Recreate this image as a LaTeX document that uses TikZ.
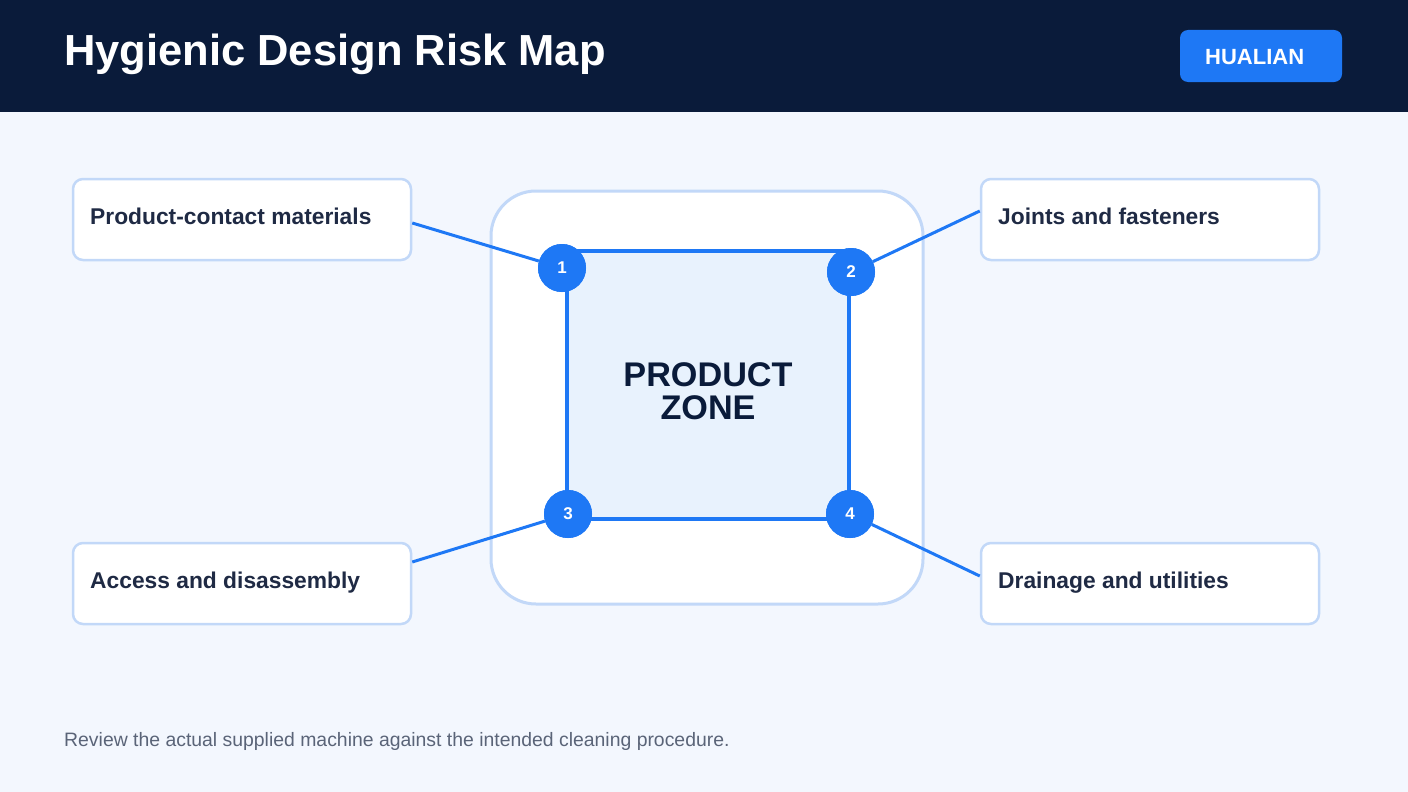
\documentclass[tikz,border=0pt]{standalone}
\usepackage{fontspec}
\setmainfont{Liberation Sans}
\usetikzlibrary{calc}
\definecolor{navy}{HTML}{0A1B3A}
\definecolor{pagebg}{HTML}{F3F7FE}
\definecolor{accent}{HTML}{1E78F5}
\definecolor{softline}{HTML}{C2D8F8}
\definecolor{zonefill}{HTML}{E8F2FD}
\definecolor{labeltext}{HTML}{1F2A44}
\definecolor{foottext}{HTML}{5A6478}
\tikzset{
  labelbox/.style={draw=softline, line width=2.5pt, fill=white, rounded corners=10pt,
    minimum width=338pt, minimum height=81pt, inner sep=0pt},
  labeltxt/.style={anchor=base west, text=labeltext, font=\fontsize{22.8}{26}\selectfont\bfseries, inner sep=0pt},
  numdot/.style={circle, fill=accent, minimum size=48pt, inner sep=0pt, text=white,
    font=\fontsize{17}{20}\selectfont\bfseries},
  link/.style={draw=accent, line width=3pt},
}
\begin{document}
\begin{tikzpicture}[x=1pt,y=-1pt]
\useasboundingbox (0,0) rectangle (1408,792);
\fill[pagebg] (0,0) rectangle (1408,792);
\fill[navy] (0,0) rectangle (1408,112);
\node[anchor=base west, text=white, font=\fontsize{43.5}{48}\selectfont\bfseries, inner sep=0pt] (title) at (64,66) {Hygienic Design Risk Map};
\node[fill=accent, rounded corners=8pt, minimum width=162pt, minimum height=52pt, inner sep=0pt] (brand) at (1261,56) {};
\node[anchor=base west, text=white, font=\fontsize{22}{24}\selectfont\bfseries, inner sep=0pt] (brandtxt) at (1205,64) {HUALIAN};

% zone
\node[draw=softline, line width=3pt, fill=white, rounded corners=45pt, minimum width=432pt, minimum height=413pt, inner sep=0pt] (outer) at (707,397.5) {};
\node[draw=accent, line width=3.5pt, fill=zonefill, minimum width=282pt, minimum height=268pt, inner sep=0pt] (inner) at (708,385) {};
\node[anchor=base, text=navy, font=\fontsize{34.2}{34}\selectfont\bfseries, inner sep=0pt] (zone1) at (708,386) {PRODUCT};
\node[anchor=base, text=navy, font=\fontsize{34.2}{34}\selectfont\bfseries, inner sep=0pt] (zone2) at (708,419) {ZONE};

% label boxes
\node[labelbox] (b1) at (242,219.5) {};
\node[labeltxt] (t1) at (90,224) {Product-contact materials};
\node[labelbox] (b2) at (1150,219.5) {};
\node[labeltxt] (t2) at (998,224) {Joints and fasteners};
\node[labelbox] (b3) at (242,583.5) {};
\node[labeltxt] (t3) at (90,588) {Access and disassembly};
\node[labelbox] (b4) at (1150,583.5) {};
\node[labeltxt] (t4) at (998,588) {Drainage and utilities};

% number dots
\node[numdot] (c1) at (562,268) {1};
\node[numdot] (c2) at (851,272) {2};
\node[numdot] (c3) at (568,514) {3};
\node[numdot] (c4) at (850,514) {4};

% connectors
\draw[link] ([yshift=-3.5pt]b1.east) -- (c1);
\draw[link] ([yshift=8.5pt]b2.west) -- (c2);
\draw[link] ([yshift=21.5pt]b3.east) -- (c3);
\draw[link] ([yshift=7.5pt]b4.west) -- (c4);
\node[numdot] at (c1) {1};
\node[numdot] at (c2) {2};
\node[numdot] at (c3) {3};
\node[numdot] at (c4) {4};

\node[anchor=base west, text=foottext, font=\fontsize{19.4}{22}\selectfont, inner sep=0pt] (foot) at (64,746) {Review the actual supplied machine against the intended cleaning procedure.};
\end{tikzpicture}
\end{document}
